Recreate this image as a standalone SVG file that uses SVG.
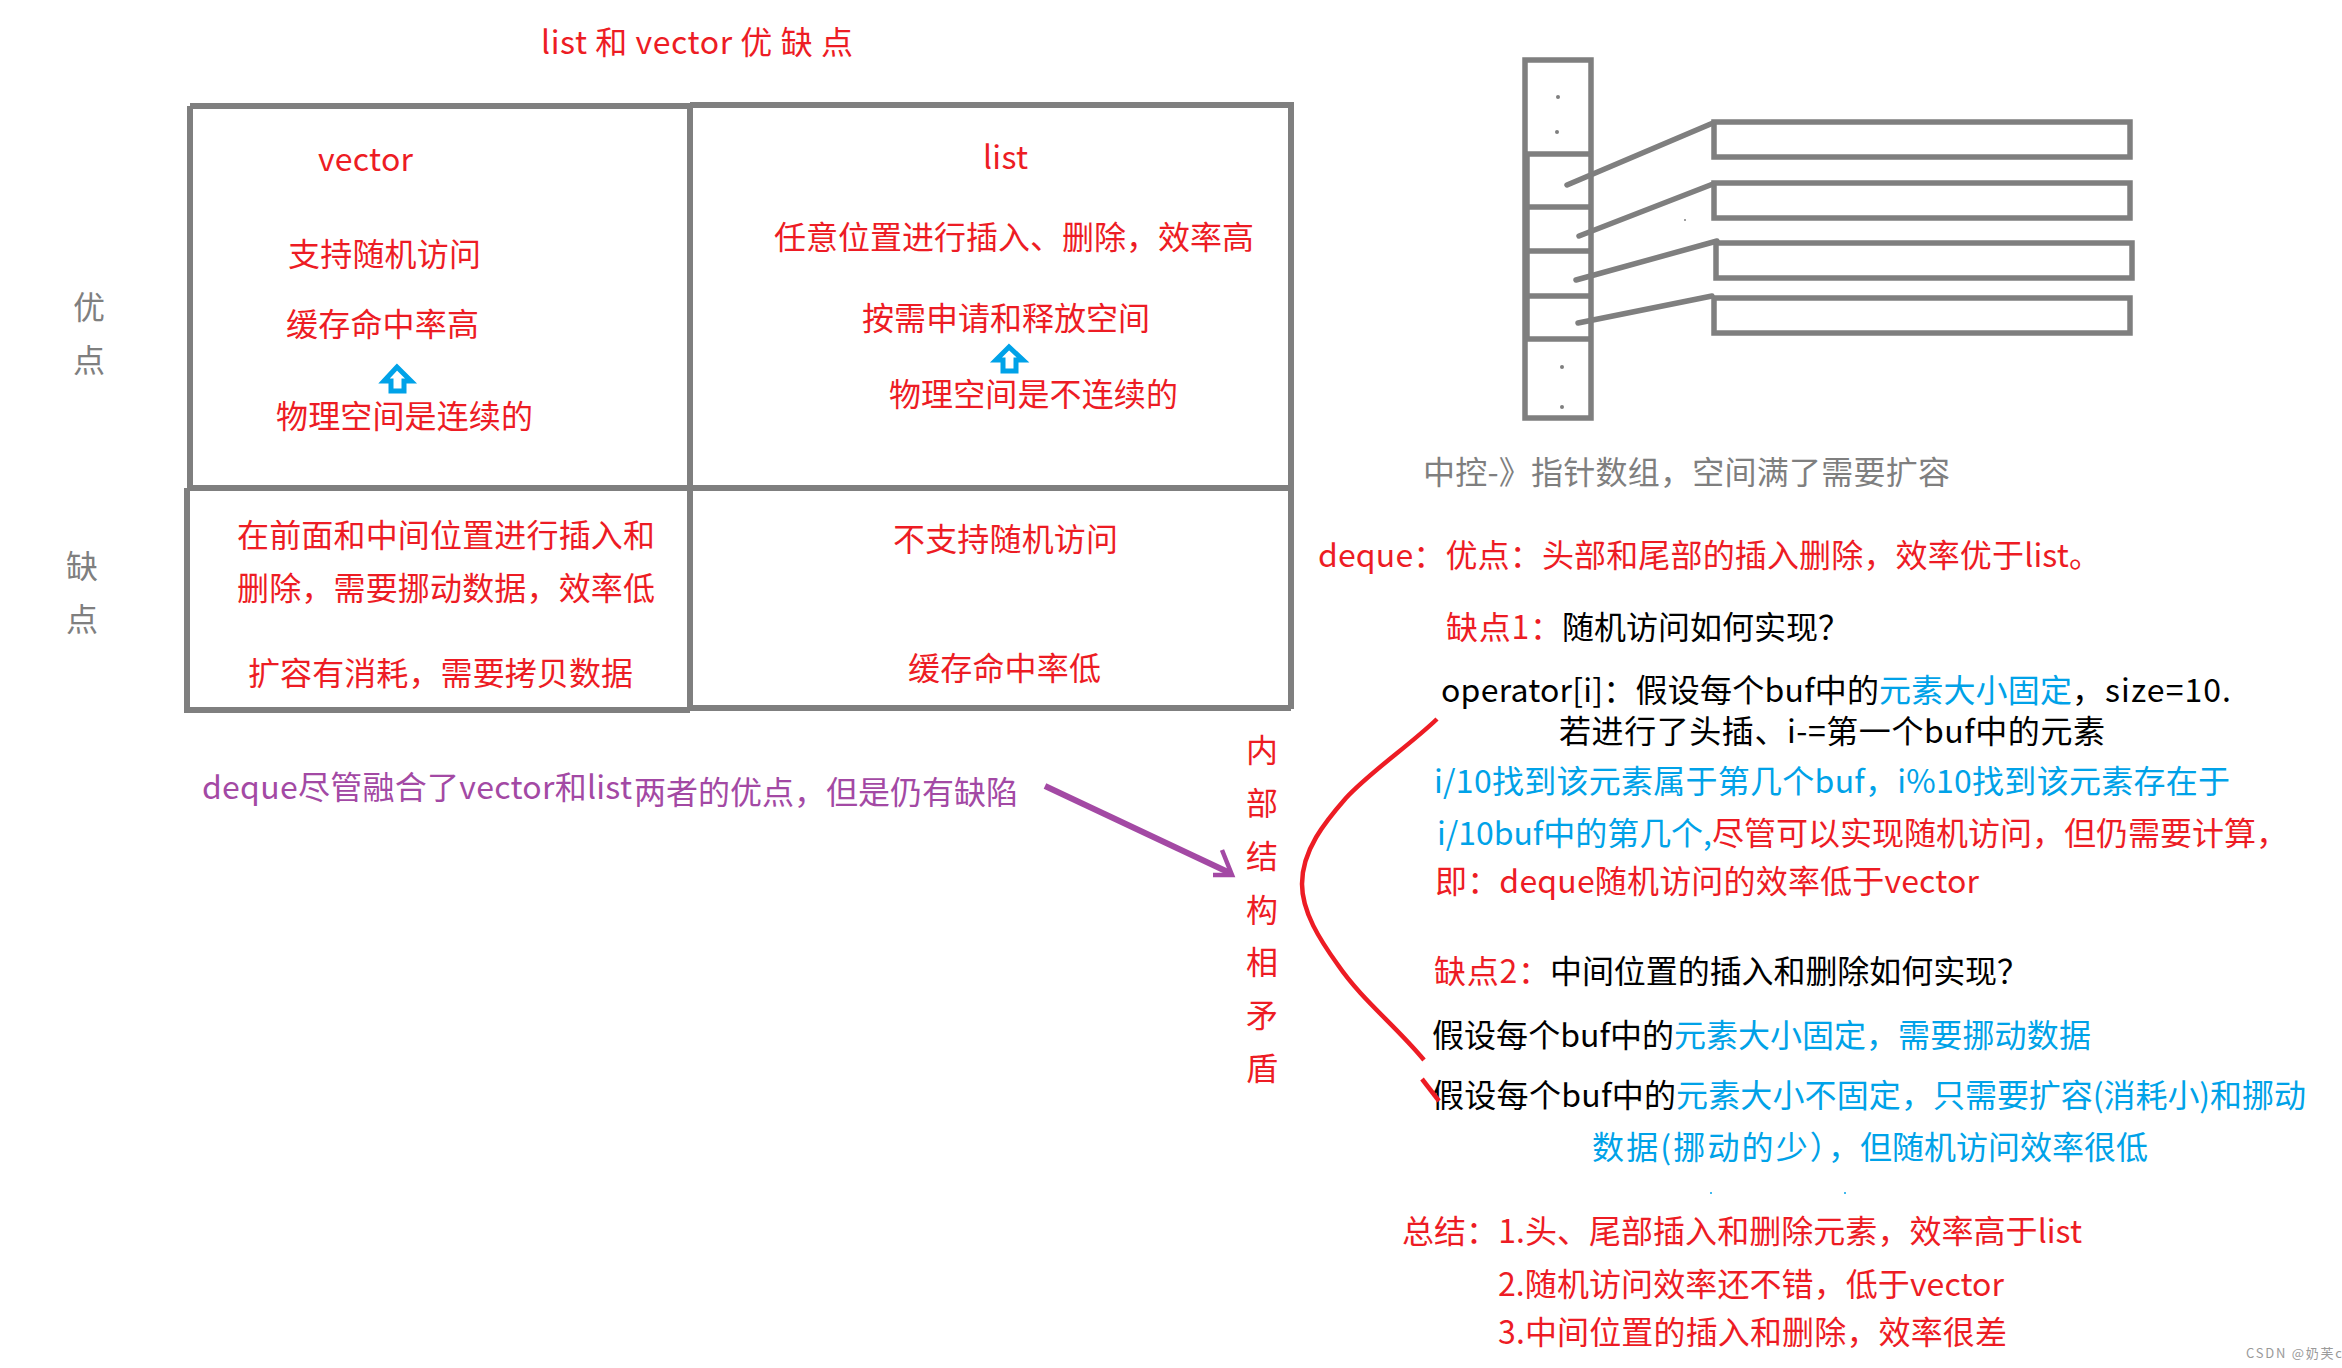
<svg xmlns="http://www.w3.org/2000/svg" width="2342" height="1368" viewBox="0 0 2342 1368">
<style>
text{font-family:"Noto Sans CJK SC","Liberation Sans",sans-serif;font-size:32px}
.r{fill:#ed1c24}.b{fill:#00a2e8}.k{fill:#000}.g{fill:#7f7f7f}.p{fill:#a349a4}
.ln{fill:none;stroke:#7f7f7f;stroke-width:6}
.ln5{fill:none;stroke:#7f7f7f;stroke-width:5.5}
.up{fill:#fff;stroke:#00a2e8;stroke-width:5;stroke-linejoin:miter}
.dot{fill:#7f7f7f}
</style>
<rect width="2342" height="1368" fill="#fff"/>
<text id="title" class="r" x="541" y="54" textLength="312">list 和 vector 优 缺 点</text>
<g id="table">
<path class="ln" d="M190 106H690M690 105H1291V709M690 105V709M187 488H1291M190 106V488M187 488V710H690M690 708H1291"/>
</g>
<g id="row-labels">
<text class="g" x="73" y="319">优</text><text class="g" x="73" y="372">点</text>
<text class="g" x="66" y="578">缺</text><text class="g" x="66" y="631">点</text>
</g>
<g id="cell-vector-pros">
<text class="r" x="318" y="171" textLength="95">vector</text>
<text class="r" x="288" y="266" textLength="193">支持随机访问</text>
<text class="r" x="286" y="336" textLength="193">缓存命中率高</text>
<polygon class="up" points="397,367 384,381 391,381 391,391 404,391 404,381 411,381"/>
<text class="r" x="276" y="428" textLength="257">物理空间是连续的</text>
</g>
<g id="cell-list-pros">
<text class="r" x="983" y="169" textLength="45">list</text>
<text class="r" x="774" y="249" textLength="480">任意位置进行插入、删除，效率高</text>
<text class="r" x="862" y="330" textLength="288">按需申请和释放空间</text>
<polygon class="up" points="1009,347 996,360 1003,360 1003,371 1016,371 1016,360 1023,360"/>
<text class="r" x="889" y="406" textLength="289">物理空间是不连续的</text>
</g>
<g id="cell-vector-cons">
<text class="r" x="237" y="547" textLength="418">在前面和中间位置进行插入和</text>
<text class="r" x="237" y="600" textLength="418">删除，需要挪动数据，效率低</text>
<text class="r" x="248" y="685" textLength="385">扩容有消耗，需要拷贝数据</text>
</g>
<g id="cell-list-cons">
<text class="r" x="893" y="551" textLength="225">不支持随机访问</text>
<text class="r" x="908" y="680" textLength="193">缓存命中率低</text>
</g>
<g id="deque-note">
<text class="p" x="202" y="799" textLength="430">deque尽管融合了vector和list</text>
<text class="p" x="634" y="804" textLength="384">两者的优点，但是仍有缺陷</text>
</g>
<g id="contradiction">
<text class="r" x="1246" y="762">内</text><text class="r" x="1246" y="815">部</text><text class="r" x="1246" y="868">结</text><text class="r" x="1246" y="922">构</text><text class="r" x="1246" y="974">相</text><text class="r" x="1246" y="1027">矛</text><text class="r" x="1246" y="1080">盾</text>
</g>
<g id="map-array">
<rect class="ln5" x="1525" y="60" width="66" height="358"/>
<path class="ln5" d="M1525 154H1591M1527 207H1591M1527 251H1591M1527 296H1591M1527 339H1591M1527 154V339"/>
<circle class="dot" cx="1558" cy="97" r="2"/><circle class="dot" cx="1557" cy="132" r="2"/><circle class="dot" cx="1562" cy="367" r="2"/><circle class="dot" cx="1562" cy="407" r="2"/>
<circle class="dot" cx="1685" cy="220" r="1"/>
</g>
<g id="buf-1"><rect class="ln5" x="1714" y="122" width="416" height="35"/></g>
<g id="buf-2"><rect class="ln5" x="1714" y="183" width="416" height="35"/></g>
<g id="buf-3"><rect class="ln5" x="1716" y="243" width="416" height="35"/></g>
<g id="buf-4"><rect class="ln5" x="1714" y="298" width="416" height="35"/></g>
<text id="map-caption" class="g" x="1423" y="484" textLength="527">中控-》指针数组，空间满了需要扩容</text>
<g id="deque-text">
<text class="r" x="1318" y="567" textLength="783">deque：优点：头部和尾部的插入删除，效率优于list。</text>
<text x="1446" y="639"><tspan class="r" x="1446" textLength="116">缺点1：</tspan><tspan class="k" x="1562" textLength="288">随机访问如何实现？</tspan></text>
<text x="1441" y="702"><tspan class="k" x="1441" textLength="438">operator[i]：假设每个buf中的</tspan><tspan class="b" x="1879" textLength="193">元素大小固定</tspan><tspan class="k" x="2072" textLength="159">，size=10.</tspan></text>
<text class="k" x="1559" y="743" textLength="546">若进行了头插、i-=第一个buf中的元素</text>
<text class="b" x="1434" y="793" textLength="796">i/10找到该元素属于第几个buf，i%10找到该元素存在于</text>
<text x="1437" y="845"><tspan class="b" x="1437" textLength="275">i/10buf中的第几个,</tspan><tspan class="r" x="1712" textLength="576">尽管可以实现随机访问，但仍需要计算，</tspan></text>
<text class="r" x="1435" y="893" textLength="544">即：deque随机访问的效率低于vector</text>
<text x="1434" y="983"><tspan class="r" x="1434" textLength="116">缺点2：</tspan><tspan class="k" x="1550" textLength="479">中间位置的插入和删除如何实现？</tspan></text>
<text x="1432" y="1047"><tspan class="k" x="1432" textLength="242">假设每个buf中的</tspan><tspan class="b" x="1674" textLength="224">元素大小固定，</tspan><tspan class="b" x="1898" textLength="193">需要挪动数据</tspan></text>
<text x="1432" y="1107"><tspan class="k" x="1432" textLength="244">假设每个buf中的</tspan><tspan class="b" x="1676" textLength="257">元素大小不固定，</tspan><tspan class="b" x="1933" textLength="373">只需要扩容(消耗小)和挪动</tspan></text>
<text x="1592" y="1159"><tspan class="b" x="1592" textLength="268">数据(挪动的少），</tspan><tspan class="b" x="1860" textLength="288">但随机访问效率很低</tspan></text>
<circle cx="1711" cy="1193" r="1" fill="#00a2e8"/><circle cx="1845" cy="1193" r="1" fill="#00a2e8"/>
<text class="r" x="1402" y="1243" textLength="680">总结：1.头、尾部插入和删除元素，效率高于list</text>
<text class="r" x="1498" y="1296" textLength="506">2.随机访问效率还不错，低于vector</text>
<text class="r" x="1498" y="1344" textLength="509">3.中间位置的插入和删除，效率很差</text>
</g>
<g id="connectors">
<path class="ln5" d="M1567 185L1713 123M1579 236L1713 184M1576 280L1717 241M1578 323L1712 296" stroke-linecap="round"/>
<path d="M1045 786L1230 873" fill="none" stroke="#a349a4" stroke-width="6"/>
<path d="M1222 850L1232 875L1213 875" fill="none" stroke="#a349a4" stroke-width="4.5"/>
<path d="M1437 719C1410 745 1370 772 1346 798C1325 822 1302 850 1302 884C1302 912 1320 940 1338 965C1362 1000 1395 1025 1424 1060" fill="none" stroke="#ed1c24" stroke-width="4.5"/>
<path d="M1422 1079L1439 1101" fill="none" stroke="#ed1c24" stroke-width="4.5"/>
</g>
<text id="watermark" x="2246" y="1358" textLength="96" style="font-size:13px;fill:#9a9a9a">CSDN @奶芙c</text>
</svg>
